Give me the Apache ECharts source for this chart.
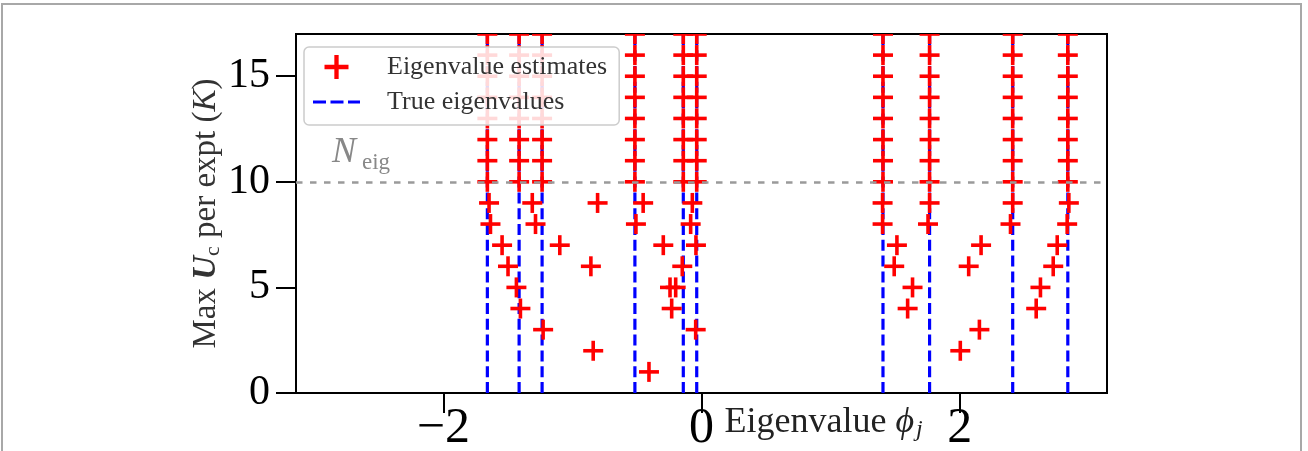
<!DOCTYPE html>
<html><head><meta charset="utf-8">
<script src="https://cdn.jsdelivr.net/npm/echarts@6/dist/echarts.min.js"></script>
<style>html,body{margin:0;padding:0;background:#fff}#c{width:1308px;height:451px}</style>
</head><body><div id="c"></div>
<script>
// ---- data ----
const trueEigenvalues = [-1.659, -1.413, -1.235, -0.516, -0.141, -0.037, 1.406, 1.767, 2.411, 2.838];
const stackLevels = [10, 11, 12, 13, 14, 15, 16, 17];   // estimates sitting on each true eigenvalue
const lowEstX = [
  -1.646, -1.311, -0.805, -0.452, -0.071, 1.403, 1.767, 2.411, 2.846,
  -1.635, -1.286, -0.508, -0.084, 1.403, 1.755, 2.394, 2.833,
  -1.545, -1.098, -0.296, -0.043, 1.514, 2.166, 2.756,
  -1.499, -0.857, -0.149, 1.493, 2.070, 2.725,
  -1.434, -0.244, -0.200, 1.635, 2.626,
  -1.403, -0.231, 1.597, 2.593,
  -1.227, -0.045, 2.153,
  -0.839, 2.005,
  -0.407
];
const lowEstY = [
  9, 9, 9, 9, 9, 9, 9, 9, 9,
  8, 8, 8, 8, 8, 8, 8, 8,
  7, 7, 7, 7, 7, 7, 7,
  6, 6, 6, 6, 6, 6,
  5, 5, 5, 5, 5,
  4, 4, 4, 4,
  3, 3, 3,
  2, 2,
  1
];
const xTicks = [-2, 0, 2];
const yTicks = [0, 5, 10, 15];
const nEig = 10;
const yMax = 17;

// ---- build series data ----
const estimates = [];
trueEigenvalues.forEach(ev => stackLevels.forEach(l => estimates.push([ev, l])));
lowEstX.forEach((x, i) => estimates.push([x, lowEstY[i]]));

const eigLines = [];
trueEigenvalues.forEach(ev => { eigLines.push([ev, 0], [ev, yMax], [ev, '-']); });

const SERIF = 'Liberation Serif';
const crossIcon = 'path://M0,8.2H20V11.8H0Z M8.2,0H11.8V20H8.2Z';
const dashIcon = 'path://M0,0H13V3.2H0Z M17.5,0H30.5V3.2H17.5Z M35,0H47V3.2H35Z';
const fmt = v => (v < 0 ? '\u2212' + Math.abs(v) : String(v));

const chart = echarts.init(document.getElementById('c'), null, {renderer: 'canvas'});
chart.setOption({
  animation: false,
  backgroundColor: '#ffffff',
  grid: {left: 296, top: 34, width: 811, height: 359, outerBoundsMode: 'none', containLabel: false,
         show: true, borderColor: '#000', borderWidth: 2, backgroundColor: 'transparent'},
  xAxis: {
    type: 'value', min: -Math.PI, max: Math.PI,
    splitLine: {show: false},
    axisLine: {show: true, onZero: false, lineStyle: {color: '#000', width: 2}},
    axisTick: {show: true, customValues: xTicks, length: 20, lineStyle: {color: '#000', width: 2}},
    axisLabel: {customValues: xTicks, formatter: fmt, margin: 11, fontFamily: SERIF, fontSize: 50, color: '#000'},
    name: 'Eigenvalue {i|\u03D5}{s|j}',
    nameLocation: 'middle', nameGap: 11, nameMoveOverlap: false,
    nameTextStyle: {
      fontFamily: SERIF, fontSize: 36, color: '#222', align: 'left', verticalAlign: 'top', padding: [0, 0, 0, 23],
      rich: {
        i: {fontFamily: SERIF, fontSize: 36, fontStyle: 'italic', color: '#222'},
        s: {fontFamily: SERIF, fontSize: 24, fontStyle: 'italic', color: '#222', padding: [14, 0, 0, 2]}
      }
    }
  },
  yAxis: {
    type: 'value', min: 0, max: yMax,
    splitLine: {show: false},
    axisLine: {show: true, onZero: false, lineStyle: {color: '#000', width: 2}},
    axisTick: {show: true, customValues: yTicks, length: 20, lineStyle: {color: '#000', width: 2}},
    axisLabel: {customValues: yTicks, formatter: fmt, margin: 26, fontFamily: SERIF, fontSize: 42, color: '#000'},
    name: 'Max {u|U}{c|c} per expt ({k|K})',
    nameLocation: 'middle', nameRotate: 90, nameGap: 72, nameMoveOverlap: false,
    nameTextStyle: {
      fontFamily: SERIF, fontSize: 33, color: '#333',
      rich: {
        u: {fontFamily: SERIF, fontSize: 33, fontStyle: 'italic', fontWeight: 'bold', color: '#333'},
        c: {fontFamily: SERIF, fontSize: 22, color: '#333', padding: [13, 0, 0, 0]},
        k: {fontFamily: SERIF, fontSize: 33, fontStyle: 'italic', color: '#333'}
      }
    }
  },
  legend: {
    orient: 'vertical', left: 304, top: 47,
    padding: [7, 12, 10, 9], itemGap: 9,
    itemWidth: 47, itemHeight: 24,
    backgroundColor: 'rgba(255,255,255,0.85)', borderColor: '#cccccc', borderWidth: 1.5, borderRadius: 5,
    textStyle: {fontFamily: SERIF, fontSize: 26, color: '#333', padding: [0, 0, 0, 22]},
    data: [{name: 'Eigenvalue estimates', icon: crossIcon}, {name: 'True eigenvalues', icon: dashIcon}]
  },
  series: [
    {
      name: 'True eigenvalues', type: 'line', data: eigLines, z: 2,
      symbol: 'none', showSymbol: false, connectNulls: false,
      lineStyle: {color: '#0000ff', width: 3.2, type: [11, 4.8]},
      itemStyle: {color: '#0000ff'},
      markLine: {
        silent: true, symbol: 'none', animation: false,
        lineStyle: {color: '#9a9a9a', width: 2.6, type: [6.5, 7.5]},
        label: {show: false},
        data: [{yAxis: nEig}]
      }
    },
    {
      name: 'Eigenvalue estimates', type: 'custom', data: estimates, z: 3, clip: true,
      itemStyle: {color: '#ff0000'},
      encode: {x: 0, y: 1},
      renderItem: function (params, api) {
        const p = api.coord([api.value(0), api.value(1)]);
        const h = 10;
        const st = {stroke: '#ff0000', lineWidth: 3.6};
        return {type: 'group', children: [
          {type: 'line', shape: {x1: p[0] - h, y1: p[1], x2: p[0] + h, y2: p[1]}, style: st},
          {type: 'line', shape: {x1: p[0], y1: p[1] - h, x2: p[0], y2: p[1] + h}, style: st}
        ]};
      }
    }
  ],
  graphic: [
    {type: 'rect', z: 100, silent: true, shape: {x: 2, y: 4, width: 1299, height: 470},
     style: {fill: 'none', stroke: '#a8a8a8', lineWidth: 2}},
    {type: 'text', z: 50, silent: true, style: {x: 332, y: 153, text: 'N', fontFamily: SERIF, fontStyle: 'italic', fontSize: 36, fill: '#888', verticalAlign: 'middle'}},
    {type: 'text', z: 50, silent: true, style: {x: 362, y: 163, text: 'eig', fontFamily: SERIF, fontSize: 23, fill: '#888', verticalAlign: 'middle'}}
  ]
});
</script>
</body></html>
